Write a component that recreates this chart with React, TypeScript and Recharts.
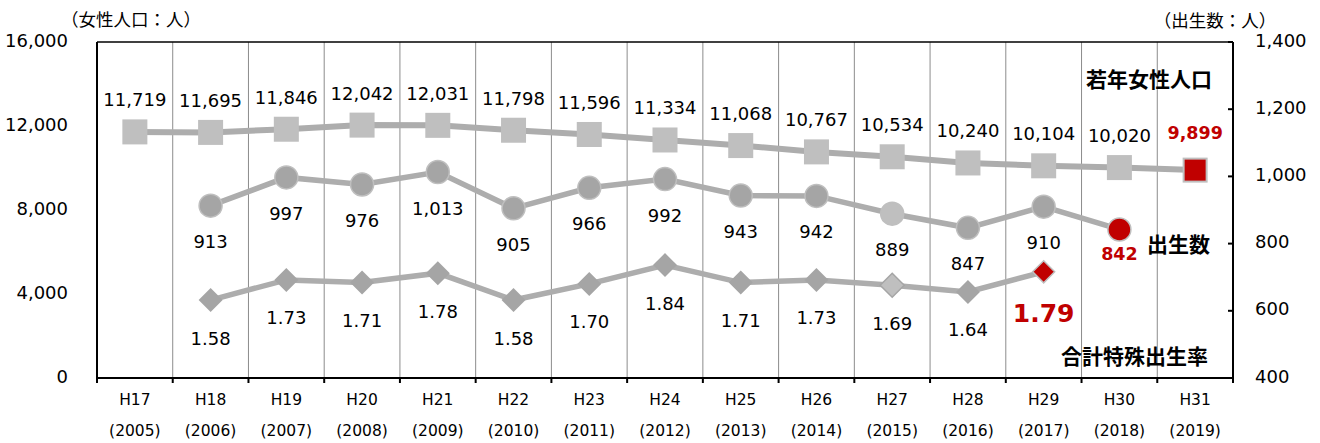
import React from "react";
import {
    LineChart,
    Line,
    XAxis,
    YAxis,
    CartesianGrid,
    ReferenceLine,
    LabelList,
} from "recharts";

// 和暦・西暦ラベル
const eraLabels = ["H17", "H18", "H19", "H20", "H21", "H22", "H23", "H24", "H25", "H26", "H27", "H28", "H29", "H30", "H31"];
const yearLabels = ["(2005)", "(2006)", "(2007)", "(2008)", "(2009)", "(2010)", "(2011)", "(2012)", "(2013)", "(2014)", "(2015)", "(2016)", "(2017)", "(2018)", "(2019)"];

// 若年女性人口（左軸）
const femalePopulation = [11719, 11695, 11846, 12042, 12031, 11798, 11596, 11334, 11068, 10767, 10534, 10240, 10104, 10020, 9899];
// 出生数（右軸）
const birthCounts = [null, 913, 997, 976, 1013, 905, 966, 992, 943, 942, 889, 847, 910, 842, null];
// 合計特殊出生率（非表示軸）
const fertilityRates = [null, 1.58, 1.73, 1.71, 1.78, 1.58, 1.7, 1.84, 1.71, 1.73, 1.69, 1.64, 1.79, null, null];

const popTicks = [0, 4000, 8000, 12000, 16000];
const birthTicks = [400, 600, 800, 1000, 1200, 1400];

const W = 1320;
const H = 443;
const LEFT_AXIS_W = 97;
const RIGHT_AXIS_W = 87;
const TOP = 42;
const X_AXIS_H = 65;
const PLOT_W = W - LEFT_AXIS_W - RIGHT_AXIS_W;
const BAND = PLOT_W / eraLabels.length;

const FONT = "'DejaVu Sans', 'Noto Sans CJK JP', sans-serif";
const JP_FONT = "'Noto Sans CJK JP', sans-serif";
const RED = "#C00000";
const LIGHT = "#BFBFBF";
const MID = "#A5A5A5";
const LINE = "#ADADAD";
const FADED_IDX = 10; // H27 は薄い色

const lastIndex = (arr: (number | null)[]) => {
    let k = -1;
    arr.forEach((v, i) => {
        if (v != null) k = i;
    });
    return k;
};
const popLast = lastIndex(femalePopulation);
const birthLast = lastIndex(birthCounts);
const tfrLast = lastIndex(fertilityRates);

const data = eraLabels.map((era, i) => ({
    idx: i,
    era,
    pop: femalePopulation[i],
    births: birthCounts[i],
    tfr: fertilityRates[i],
}));

const fmtNum = (v: number) => v.toLocaleString("en-US");

const SquareDot = (props: any) => {
    const { cx, cy, index, value } = props;
    if (value == null || cy == null) return <g key={`sq-${index}`} />;
    const last = index === popLast;
    const s = last ? 11.5 : 12.5;
    return (
        <rect
            key={`sq-${index}`}
            x={cx - s}
            y={cy - s}
            width={s * 2}
            height={s * 2}
            fill={last ? RED : LIGHT}
            stroke={last ? LIGHT : "none"}
            strokeWidth={last ? 2 : 0}
        />
    );
};

const CircleDot = (props: any) => {
    const { cx, cy, index, value } = props;
    if (value == null || cy == null) return <g key={`ci-${index}`} />;
    const last = index === birthLast;
    let fill = MID;
    if (last) fill = RED;
    else if (index === FADED_IDX) fill = LIGHT;
    return <circle key={`ci-${index}`} cx={cx} cy={cy} r={11.5} fill={fill} stroke={LIGHT} strokeWidth={1.5} />;
};

const DiamondDot = (props: any) => {
    const { cx, cy, index, value } = props;
    if (value == null || cy == null) return <g key={`di-${index}`} />;
    const last = index === tfrLast;
    const r = last ? 11 : 12;
    let fill = MID;
    let stroke = "none";
    if (last) {
        fill = RED;
        stroke = LIGHT;
    } else if (index === FADED_IDX) {
        fill = LIGHT;
        stroke = MID;
    }
    const pts = `${cx},${cy - r} ${cx + r},${cy} ${cx},${cy + r} ${cx - r},${cy}`;
    return <polygon key={`di-${index}`} points={pts} fill={fill} stroke={stroke} strokeWidth={1.5} />;
};

const makeLabel =
    (lastIdx: number, offset: number, redOffset: number, redSize: number, fmt: (v: number) => string) =>
    (props: any) => {
        const x = props.x ?? props.viewBox?.x;
        const y = props.y ?? props.viewBox?.y;
        const { value, index } = props;
        if (value == null || y == null) return null;
        const last = index === lastIdx;
        return (
            <text
                x={x}
                y={y + (last ? redOffset : offset)}
                textAnchor="middle"
                dominantBaseline="central"
                fontFamily={FONT}
                fontSize={last ? redSize : 18}
                fontWeight={last ? 700 : 400}
                fill={last ? RED : "#000"}
            >
                {fmt(value)}
            </text>
        );
    };

const XTick = (props: any) => {
    const { x, y, payload } = props;
    const i = payload.value;
    const left = x - BAND / 2;
    return (
        <g>
            <line x1={left} x2={left} y1={y} y2={y + 5} stroke="#000" strokeWidth={2} />
            {i === eraLabels.length - 1 && (
                <line x1={x + BAND / 2} x2={x + BAND / 2} y1={y} y2={y + 5} stroke="#000" strokeWidth={2} />
            )}
            <text x={x} y={y + 22} textAnchor="middle" dominantBaseline="central" fontFamily={FONT} fontSize={15.5} fill="#000">
                {eraLabels[i]}
            </text>
            <text x={x} y={y + 53} textAnchor="middle" dominantBaseline="central" fontFamily={FONT} fontSize={15.5} fill="#000">
                {yearLabels[i]}
            </text>
        </g>
    );
};

const RightTick = (props: any) => {
    const { x, y, payload } = props;
    const axisX = x - 22;
    return (
        <g>
            <line x1={axisX - 5} x2={axisX} y1={y} y2={y} stroke="#000" strokeWidth={2} />
            <text x={x} y={y - 2} textAnchor="start" dominantBaseline="central" fontFamily={FONT} fontSize={18} fill="#000">
                {fmtNum(payload.value)}
            </text>
        </g>
    );
};

const LeftTick = (props: any) => {
    const { x, y, payload } = props;
    return (
        <text x={x} y={y - 2} textAnchor="end" dominantBaseline="central" fontFamily={FONT} fontSize={18} fill="#000">
            {fmtNum(payload.value)}
        </text>
    );
};

export default function App() {
    return (
        <div style={{ position: "absolute", left: 0, top: 0, width: W, height: H, background: "#fff", fontFamily: FONT }}>
            <LineChart width={W} height={H} data={data} margin={{ top: TOP, right: 0, bottom: 0, left: 0 }}>
                <CartesianGrid
                    yAxisId="pop"
                    horizontal={false}
                    stroke="#8c8c8c"
                    strokeWidth={1}
                    verticalCoordinatesGenerator={({ offset }: any) =>
                        Array.from({ length: eraLabels.length - 1 }, (_, i) => offset.left + ((i + 1) * offset.width) / eraLabels.length)
                    }
                />
                <XAxis
                    type="number"
                    dataKey="idx"
                    domain={[-0.5, eraLabels.length - 0.5]}
                    ticks={eraLabels.map((_, i) => i)}
                    interval={0}
                    height={X_AXIS_H}
                    tickLine={false}
                    tickSize={0}
                    tickMargin={0}
                    axisLine={{ stroke: "#000", strokeWidth: 2 }}
                    tick={<XTick />}
                />
                <YAxis
                    yAxisId="pop"
                    domain={[0, 16000]}
                    ticks={popTicks}
                    width={LEFT_AXIS_W}
                    tickLine={false}
                    tickSize={0}
                    tickMargin={29}
                    axisLine={{ stroke: "#000", strokeWidth: 2 }}
                    tick={<LeftTick />}
                    interval={0}
                />
                <YAxis
                    yAxisId="births"
                    orientation="right"
                    domain={[400, 1400]}
                    ticks={birthTicks}
                    width={RIGHT_AXIS_W}
                    tickLine={false}
                    tickSize={0}
                    tickMargin={22}
                    axisLine={{ stroke: "#000", strokeWidth: 2 }}
                    tick={<RightTick />}
                    interval={0}
                />
                <YAxis yAxisId="tfr" hide domain={[1, 3.5]} />
                <ReferenceLine yAxisId="pop" y={16000} stroke="#000" strokeWidth={1.5} />

                <Line
                    yAxisId="pop"
                    dataKey="pop"
                    stroke={LINE}
                    strokeWidth={6}
                    dot={SquareDot}
                    activeDot={false}
                    isAnimationActive={false}
                >
                    <LabelList dataKey="pop" content={makeLabel(popLast, -32, -37, 17.5, fmtNum)} />
                </Line>
                <Line
                    yAxisId="births"
                    dataKey="births"
                    stroke={LINE}
                    strokeWidth={5.5}
                    dot={CircleDot}
                    activeDot={false}
                    connectNulls={false}
                    isAnimationActive={false}
                >
                    <LabelList dataKey="births" content={makeLabel(birthLast, 36, 25, 17.5, fmtNum)} />
                </Line>
                <Line
                    yAxisId="tfr"
                    dataKey="tfr"
                    stroke={LINE}
                    strokeWidth={5.5}
                    dot={DiamondDot}
                    activeDot={false}
                    connectNulls={false}
                    isAnimationActive={false}
                >
                    <LabelList dataKey="tfr" content={makeLabel(tfrLast, 38, 42, 25, (v) => v.toFixed(2))} />
                </Line>
            </LineChart>
            <svg
                width={W}
                height={H}
                style={{ position: "absolute", left: 0, top: 0, pointerEvents: "none" }}
            >
                <text x={131} y={18} textAnchor="middle" dominantBaseline="central" fontFamily={JP_FONT} fontSize={17.5} fill="#000">
                    （女性人口：人）
                </text>
                <text x={1215} y={19} textAnchor="middle" dominantBaseline="central" fontFamily={JP_FONT} fontSize={17.5} fill="#000">
                    （出生数：人）
                </text>
                <text x={1212} y={78} textAnchor="end" dominantBaseline="central" fontFamily={JP_FONT} fontSize={21} fontWeight={700} fill="#000">
                    若年女性人口
                </text>
                <text x={1210} y={243} textAnchor="end" dominantBaseline="central" fontFamily={JP_FONT} fontSize={21} fontWeight={700} fill="#000">
                    出生数
                </text>
                <text x={1208} y={355} textAnchor="end" dominantBaseline="central" fontFamily={JP_FONT} fontSize={21} fontWeight={700} fill="#000">
                    合計特殊出生率
                </text>
            </svg>
        </div>
    );
}
